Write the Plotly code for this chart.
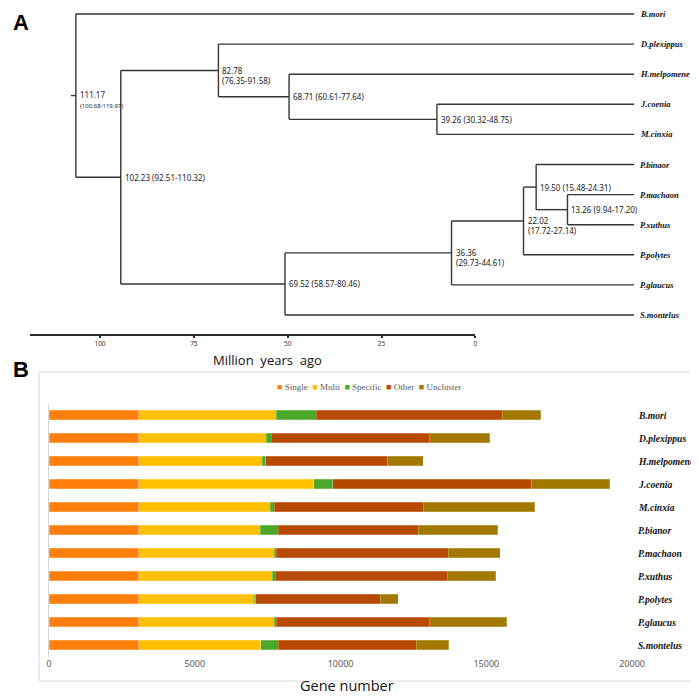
import plotly.graph_objects as go

# ---------------- Panel A data: time tree ----------------
TIPS = ["B.mori", "D.plexippus", "H.melpomene", "J.coenia", "M.cinxia",
        "P.binaor", "P.machaon", "P.xuthus", "P.polytes", "P.glaucus", "S.montelus"]
NODE_NAMES = ["n1", "n2", "n3", "n4", "n5", "n6", "n7", "n8", "n9", "n10"]
NODE_AGES = [111.17, 102.23, 82.78, 68.71, 39.26, 69.52, 36.36, 22.02, 19.50, 13.26]
NODE_CI = ["100.68-119.97", "92.51-110.32", "76.35-91.58", "60.61-77.64", "30.32-48.75",
           "58.57-80.46", "29.73-44.61", "17.72-27.14", "15.48-24.31", "9.94-17.20"]
NODE_CHILDREN = [["B.mori", "n2"], ["n3", "n6"], ["D.plexippus", "n4"], ["H.melpomene", "n5"],
                 ["J.coenia", "M.cinxia"], ["n7", "S.montelus"], ["n8", "P.glaucus"],
                 ["n9", "P.polytes"], ["P.binaor", "n10"], ["P.machaon", "P.xuthus"]]
ROOT_EDGE = 1.0
TIME_TICKS = [100, 75, 50, 25, 0]

# ---------------- Panel B data: gene clusters ----------------
SPECIES = ["B.mori", "D.plexippus", "H.melpomene", "J.coenia", "M.cinxia", "P.bianor",
           "P.machaon", "P.xuthus", "P.polytes", "P.glaucus", "S.montelus"]
SERIES = ["Single", "Multi", "Specific", "Other", "Uncluster"]
SINGLE = [3080, 3080, 3080, 3080, 3080, 3080, 3080, 3080, 3080, 3080, 3080]
MULTI = [4705, 4363, 4237, 5995, 4500, 4157, 4648, 4568, 3952, 4636, 4180]
SPECIFIC = [1382, 171, 115, 651, 148, 616, 68, 103, 57, 69, 593]
OTHER = [6381, 5423, 4178, 6827, 5103, 4818, 5891, 5902, 4270, 5252, 4750]
UNCLUSTER = [1324, 2088, 1221, 2682, 3823, 2717, 1792, 1667, 616, 2659, 1116]
GENE_TICKS = [0, 5000, 10000, 15000, 20000]
COLORS = ["#FF7F0A", "#FFC000", "#4CA82A", "#B84A00", "#A37800"]

# ---------------- layout constants (target picture pixels) ----------------
OFF = 8            # page body margin
SX = 0.979         # horizontal scale of the photographed page
W, H = 704, 689
TREE_PX_PER_MY, TREE_ZERO_PX = 5.03, 632.0
TIP_TOP_PX, TIP_BOT_PX = 14.0, 315.0
AX_PX_PER_MY, AX_ZERO_PX, AX_LEFT_PX, AX_Y_PX = 3.76, 473.0, 27.0, 335.0
BAR_ZERO_PX, BAR_MAX_PX = 46.0, 630.0
ROW_TOP_PX, ROW_STEP_PX = 415.0, 23.0


def fx(x):
    return x / SX - OFF


def fy(y):
    return y - OFF


def ref_x(xf):
    return (xf + OFF) * SX


def px(x):
    return min(max(fx(x) / W, 0.0), 1.0)


def py(y):
    return min(max(1 - fy(y) / H, 0.0), 1.0)


fig = go.Figure()

# ---- tree geometry from data ----
tip_idx = {t: i for i, t in enumerate(TIPS)}
node_idx = {n: i for i, n in enumerate(NODE_NAMES)}
TIP_STEP_PX = (TIP_BOT_PX - TIP_TOP_PX) / (len(TIPS) - 1)


def age(n):
    return NODE_AGES[node_idx[n]] if n in node_idx else 0.0


def ypos(n):
    if n in tip_idx:
        return tip_idx[n]
    ch = NODE_CHILDREN[node_idx[n]]
    return sum(ypos(c) for c in ch) / len(ch)


xs, ys = [], []
for n in NODE_NAMES:
    a = age(n)
    ch = NODE_CHILDREN[node_idx[n]]
    cy = [ypos(c) for c in ch]
    xs += [a, a, None]
    ys += [min(cy), max(cy), None]
    for c, yc in zip(ch, cy):
        xs += [a, age(c), None]
        ys += [yc, yc, None]
root = NODE_NAMES[0]
xs += [age(root) + ROOT_EDGE, age(root), None]
ys += [ypos(root), ypos(root), None]

fig.add_trace(go.Scatter(x=xs, y=ys, mode="lines", line=dict(color="#363636", width=1.4),
                         hoverinfo="skip", showlegend=False, xaxis="x", yaxis="y"))
# invisible trace binding the time axis
fig.add_trace(go.Scatter(x=TIME_TICKS, y=[0] * len(TIME_TICKS), mode="markers",
                         marker=dict(opacity=0), hoverinfo="skip", showlegend=False,
                         xaxis="x2", yaxis="y"))

annotations = []
TWO_LINE = {"n1", "n3", "n7", "n8"}
NODE_FONT = dict(family="Noto Sans", size=8, color="#222")
for n in NODE_NAMES:
    i = node_idx[n]
    a = NODE_AGES[i]
    ci = NODE_CI[i]
    if n == root:
        text = f"{a:.2f}<br><span style='font-size:6px'>({ci})</span>"
        annotations.append(dict(x=a, y=ypos(n), xref="x", yref="y", text=text, showarrow=False,
                                xanchor="left", yanchor="middle", align="left", xshift=2, yshift=-4,
                                font=NODE_FONT))
    elif n in TWO_LINE:
        annotations.append(dict(x=a, y=ypos(n), xref="x", yref="y", text=f"{a:.2f}<br>({ci})",
                                showarrow=False, xanchor="left", yanchor="middle", align="left",
                                xshift=2, yshift=-5, font=NODE_FONT))
    else:
        annotations.append(dict(x=a, y=ypos(n), xref="x", yref="y", text=f"{a:.2f} ({ci})",
                                showarrow=False, xanchor="left", yanchor="middle", align="left",
                                xshift=2, font=NODE_FONT))
for t in TIPS:
    annotations.append(dict(x=0, y=tip_idx[t], xref="x", yref="y", text=f"<b><i>{t}</i></b>",
                            showarrow=False, xanchor="left", yanchor="middle", xshift=4,
                            font=dict(family="Liberation Serif", size=8.5, color="#111")))

# ---- bars ----
for name, vals, col in zip(SERIES, [SINGLE, MULTI, SPECIFIC, OTHER, UNCLUSTER], COLORS):
    fig.add_trace(go.Bar(y=SPECIES, x=vals, orientation="h", name=name, width=0.42,
                         marker=dict(color=col, line=dict(color="rgba(255,255,255,0.45)", width=0.5)),
                         showlegend=False, xaxis="x3", yaxis="y3", hoverinfo="x+name"))

for s in SPECIES:
    annotations.append(dict(x=px(634), y=s, xref="paper", yref="y3", text=f"<b><i>{s}</i></b>",
                            showarrow=False, xanchor="left", yanchor="middle",
                            font=dict(family="Liberation Serif", size=9.6, color="#111")))

legend_text = "&nbsp;&nbsp;".join(
    f"<span style='color:{c}'>■</span> {nm}" for nm, c in zip(SERIES, COLORS))
annotations.append(dict(x=px(366), y=py(387), xref="paper", yref="paper", text=legend_text,
                        showarrow=False, xanchor="center", yanchor="middle",
                        font=dict(family="Liberation Serif", size=9, color="#595959")))

# titles and panel letters
annotations += [
    dict(x=px(265), y=py(360), xref="paper", yref="paper", text="Million&nbsp; years&nbsp; ago",
         showarrow=False, xanchor="center", yanchor="middle",
         font=dict(family="Open Sans", size=13, color="#111")),
    dict(x=px(344), y=0, xref="paper", yref="paper", text="Gene number",
         showarrow=False, xanchor="center", yanchor="bottom",
         font=dict(family="Open Sans", size=14.5, color="#111")),
    dict(x=0, y=1, xref="paper", yref="paper", text="<b>A</b>", showarrow=False,
         xanchor="left", yanchor="top", font=dict(family="Liberation Sans", size=22, color="#000")),
    dict(x=0, y=py(369), xref="paper", yref="paper", text="<b>B</b>", showarrow=False,
         xanchor="left", yanchor="middle", font=dict(family="Liberation Sans", size=22, color="#000")),
]

n_rows = len(SPECIES)
row_top = ROW_TOP_PX - ROW_STEP_PX / 2
row_bot = ROW_TOP_PX + ROW_STEP_PX * (n_rows - 0.5)

tip_top_f = fy(TIP_TOP_PX)

fig.update_layout(
    width=W, height=H, margin=dict(l=0, r=0, t=0, b=0),
    paper_bgcolor="white", plot_bgcolor="rgba(0,0,0,0)",
    barmode="stack", showlegend=False,
    xaxis=dict(domain=[0, 1],
               range=[(TREE_ZERO_PX - ref_x(0)) / TREE_PX_PER_MY, (TREE_ZERO_PX - ref_x(W)) / TREE_PX_PER_MY],
               visible=False, fixedrange=True),
    yaxis=dict(domain=[0, 1], range=[(H - tip_top_f) / TIP_STEP_PX, -tip_top_f / TIP_STEP_PX],
               visible=False, fixedrange=True),
    xaxis2=dict(domain=[px(AX_LEFT_PX), px(AX_ZERO_PX)],
                range=[(AX_ZERO_PX - AX_LEFT_PX) / AX_PX_PER_MY, 0],
                anchor="free", position=py(AX_Y_PX), showline=True, linecolor="#2a2a2a", linewidth=1.6,
                ticks="outside", ticklen=2, tickwidth=1.5, tickcolor="#2a2a2a",
                tickvals=TIME_TICKS, ticktext=[str(v) for v in TIME_TICKS],
                tickfont=dict(family="Noto Sans", size=6.5, color="#333"),
                showgrid=False, zeroline=False, fixedrange=True),
    xaxis3=dict(domain=[px(BAR_ZERO_PX), px(BAR_MAX_PX)], range=[0, GENE_TICKS[-1]], anchor="y3",
                tickvals=GENE_TICKS, ticktext=[str(v) for v in GENE_TICKS],
                tickfont=dict(family="Noto Sans", size=9, color="#595959"),
                showgrid=False, zeroline=False, showline=False, ticks="", fixedrange=True),
    yaxis3=dict(domain=[py(row_bot), py(row_top)], anchor="x3", type="category",
                categoryorder="array", categoryarray=SPECIES, range=[n_rows - 0.5, -0.5],
                showticklabels=False, ticks="", showgrid=False, zeroline=False,
                showline=True, linecolor="#d4d4d4", linewidth=1, fixedrange=True),
    shapes=[dict(type="rect", xref="paper", yref="paper", x0=px(36), x1=min(px(697), 1 - 1.0 / W),
                 y0=py(681), y1=py(372), line=dict(color="#d9d9d9", width=1),
                 fillcolor="rgba(0,0,0,0)", layer="below")],
    annotations=annotations,
)

fig.write_html("out.html")
